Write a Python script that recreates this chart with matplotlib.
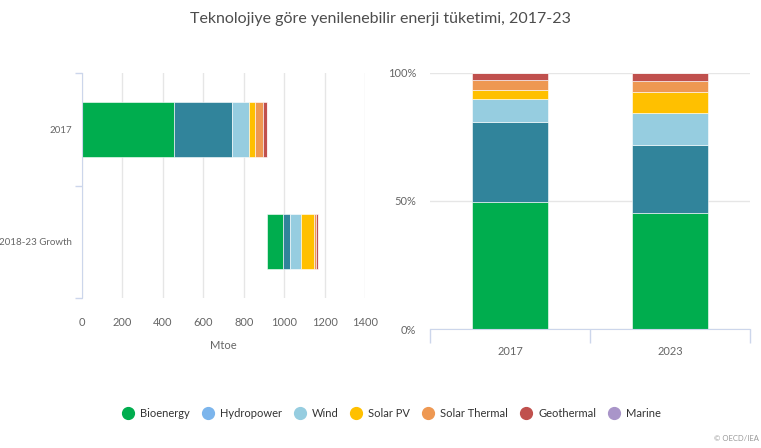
import matplotlib.pyplot as plt
from matplotlib.lines import Line2D
import numpy as np

plt.rcParams['font.family'] = ['Lato', 'DejaVu Sans']

techs = ['Bioenergy', 'Hydropower', 'Wind', 'Solar PV', 'Solar Thermal', 'Geothermal', 'Marine']
bar_colors = ['#00ad4e', '#31849b', '#96cde0', '#ffc000', '#ee9852', '#c0504d', '#a995c9']
legend_colors = ['#00ad4e', '#7cb5ec', '#96cde0', '#ffc000', '#ee9852', '#c0504d', '#a995c9']

# left chart, Mtoe
left_cats = ['2017', '2018-23 Growth']
mtoe_2017 = [457, 284, 86, 31, 36, 22, 0]
mtoe_growth = [80, 33, 56, 60, 11, 11, 0]

# right chart, share in %
right_cats = ['2017', '2023']
share_2017 = [49.5, 31.1, 9.0, 3.8, 3.7, 2.9, 0]
share_2023 = [45.2, 26.7, 12.3, 8.1, 4.3, 3.4, 0]

grid_c = '#e6e6e6'
axis_c = '#ccd6eb'
text_c = '#666666'

fig = plt.figure(figsize=(7.61, 4.48), dpi=100)
fig.text(0.5, 0.958, 'Teknolojiye göre yenilenebilir enerji tüketimi, 2017-23',
         ha='center', va='center', fontsize=11.5, color='#4d4d4d')

# ---- left: horizontal stacked bars (waterfall-ish)
ax1 = fig.add_axes([0.1078, 0.3348, 0.3719, 0.5022])
start = 0
for i, t in enumerate(techs):
    ax1.barh(0, mtoe_2017[i], left=start, height=0.49, color=bar_colors[i],
             edgecolor='white', linewidth=0.4, zorder=3)
    start += mtoe_2017[i]
gstart = sum(mtoe_2017)
for i, t in enumerate(techs):
    ax1.barh(1, mtoe_growth[i], left=gstart, height=0.49, color=bar_colors[i],
             edgecolor='white', linewidth=0.4, zorder=3)
    gstart += mtoe_growth[i]

ax1.set_xlim(0, 1400)
ax1.set_ylim(1.5, -0.5)
ax1.set_xticks(np.arange(0, 1401, 200))
ax1.set_yticks([0, 1])
ax1.set_yticklabels(left_cats)
ax1.set_yticks([-0.5, 0.5, 1.5], minor=True)
ax1.tick_params(axis='y', which='major', length=0, pad=7, labelsize=7, labelcolor=text_c)
ax1.tick_params(axis='y', which='minor', length=5, color=axis_c, width=1)
ax1.tick_params(axis='x', length=0, pad=14, labelsize=8, labelcolor=text_c)
ax1.grid(axis='x', color=grid_c, linewidth=1, zorder=0)
for s in ['top', 'right', 'bottom']:
    ax1.spines[s].set_visible(False)
ax1.spines['left'].set_color(axis_c)
ax1.spines['left'].set_zorder(4)
ax1.set_xlabel('Mtoe', fontsize=8, color=text_c, labelpad=8)

# ---- right: 100% stacked columns
ax2 = fig.add_axes([0.565, 0.2656, 0.4205, 0.572])
x = np.arange(len(right_cats))
bottom = np.zeros(2)
for i, t in enumerate(techs):
    vals = np.array([share_2017[i], share_2023[i]])
    ax2.bar(x, vals, bottom=bottom, width=0.48, color=bar_colors[i],
            edgecolor='white', linewidth=0.4, zorder=3)
    bottom += vals
ax2.set_xlim(-0.5, 1.5)
ax2.set_ylim(0, 100)
ax2.set_yticks([0, 50, 100])
ax2.set_yticklabels(['0%', '50%', '100%'])
ax2.set_xticks(x)
ax2.set_xticklabels(right_cats)
ax2.set_xticks([-0.5, 0.5, 1.5], minor=True)
ax2.tick_params(axis='x', which='major', length=0, pad=12, labelsize=8, labelcolor=text_c)
ax2.tick_params(axis='x', which='minor', length=10, color=axis_c, width=1)
ax2.tick_params(axis='y', length=0, pad=10, labelsize=8, labelcolor=text_c)
ax2.grid(axis='y', color=grid_c, linewidth=1, zorder=0)
for s in ['top', 'right', 'left']:
    ax2.spines[s].set_visible(False)
ax2.spines['bottom'].set_color(axis_c)
ax2.spines['bottom'].set_zorder(4)

# ---- legend
handles = [Line2D([], [], marker='o', linestyle='none', markersize=8.5,
                  markerfacecolor=c, markeredgecolor=c) for c in legend_colors]
fig.legend(handles, techs, loc='center', bbox_to_anchor=(0.511, 0.078), ncol=7,
           frameon=False, fontsize=8, handletextpad=0.1, columnspacing=0.6,
           labelcolor='#333333')

fig.text(0.997, 0.022, '© OECD/IEA', ha='right', va='center', fontsize=5.5, color='#999999')

fig.savefig('out.png', dpi=100)
